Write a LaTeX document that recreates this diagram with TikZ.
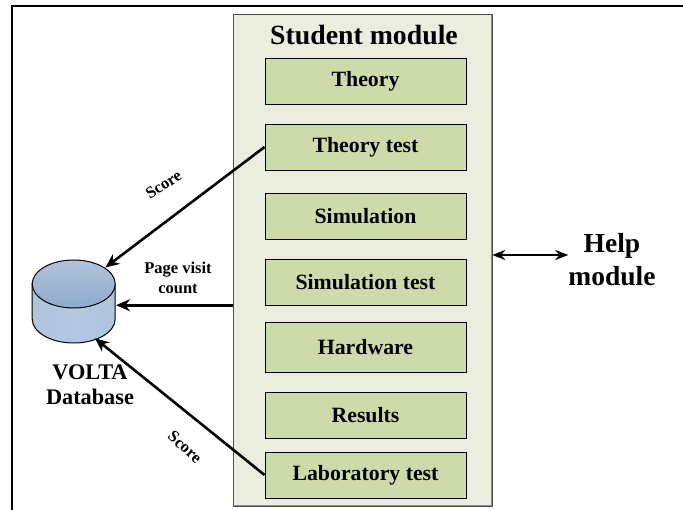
\documentclass[tikz,border=0pt]{standalone}
\usepackage{fontspec}
\setmainfont{Liberation Serif}
\usetikzlibrary{shapes.geometric,arrows.meta}
\definecolor{panelfill}{HTML}{EBEEDF}
\definecolor{boxfill}{HTML}{CDDAA9}
\definecolor{dblight}{HTML}{B4C8E0}
\definecolor{dbdark}{HTML}{8FAACB}
\tikzset{
  x=1pt,y=-1pt,
  panel/.style={draw=black!70,line width=0.8pt,fill=panelfill,rectangle,minimum width=259pt,minimum height=491pt,inner sep=0pt},
  modbox/.style={draw=black,line width=0.9pt,fill=boxfill,rectangle,minimum width=201pt,inner sep=0pt,font=\fontsize{21.8}{24}\selectfont\bfseries},
  flow/.style={line width=2.6pt,-{Stealth[length=14pt,width=12pt]}},
  lab/.style={font=\fontsize{16.5}{20}\selectfont\bfseries,align=center,inner sep=0pt},
  scorelab/.style={font=\fontsize{16.5}{18}\selectfont\bfseries,inner sep=0pt},
}
\begin{document}
\begin{tikzpicture}
\useasboundingbox (0,0) rectangle (683,510);
\fill[white] (0,0) rectangle (683,510);
\draw[line width=2pt] (11.5,510) -- (11.5,6) -- (683,6);
\node[panel,anchor=north west] (pan) at (232.5,14.5) {};
\draw[black!45,line width=1pt] (233,505.5) -- (491.5,505.5) -- (491.5,15);
\node[font=\fontsize{27.8}{30}\selectfont\bfseries,inner sep=0pt] (title) at (364,35) {Student module};
\node[modbox,minimum height=46pt] (a) at (365.5,81) {Theory};
\node[modbox,minimum height=46pt] (b) at (365.5,147) {Theory test};
\node[modbox,minimum height=46pt] (c) at (365.5,216) {Simulation};
\node[modbox,minimum height=46pt] (d) at (365.5,282) {Simulation test};
\node[modbox,minimum height=50pt] (e) at (365.5,347) {Hardware};
\node[modbox,minimum height=46pt] (f) at (365.5,415) {Results};
\node[modbox,minimum height=46pt] (g) at (365.5,475) {Laboratory test};
% database cylinder
\path[left color=dblight!85!dbdark,right color=dblight!85!dbdark,middle color=dblight,draw=black,line width=1pt]
  (32.2,283.5) -- (32.2,319) arc[start angle=180,end angle=0,x radius=41.5,y radius=24] -- (115.2,283.5) -- cycle;
\path[top color=dbdark!70!white,bottom color=dbdark,draw=black,line width=1pt]
  (73.7,284) ellipse [x radius=41.5,y radius=24];
\node[circle,minimum size=85pt,inner sep=0pt,outer sep=0pt] (db) at (73.7,301.5) {};
\node[font=\fontsize{22.3}{25}\selectfont\bfseries,align=center,inner sep=0pt] (vdb) at (90,384.5) {VOLTA\\Database};
\node[font=\fontsize{27.5}{33}\selectfont\bfseries,align=center,inner sep=0pt] (help) at (612,260) {Help\\module};
\node[lab] (pvc) at (178,277.5) {Page visit\\count};
\node[scorelab,rotate=33] (s1) at (163.5,184.5) {Score};
\node[scorelab,rotate=-42] (s2) at (185,447) {Score};
\draw[flow,shorten >=4pt] (b.west) -- (db.48);
\draw[flow] (pan.west |- db.-5) -- (db.-5);
\draw[flow] (g.west) -- (db.-60);
\draw[line width=2.3pt,{Stealth[length=13pt,width=10pt]}-{Stealth[length=13pt,width=10pt]}] (pan.east |- help.center) ++(0,-5) coordinate (h1) -- (h1 -| help.west);
\end{tikzpicture}
\end{document}
